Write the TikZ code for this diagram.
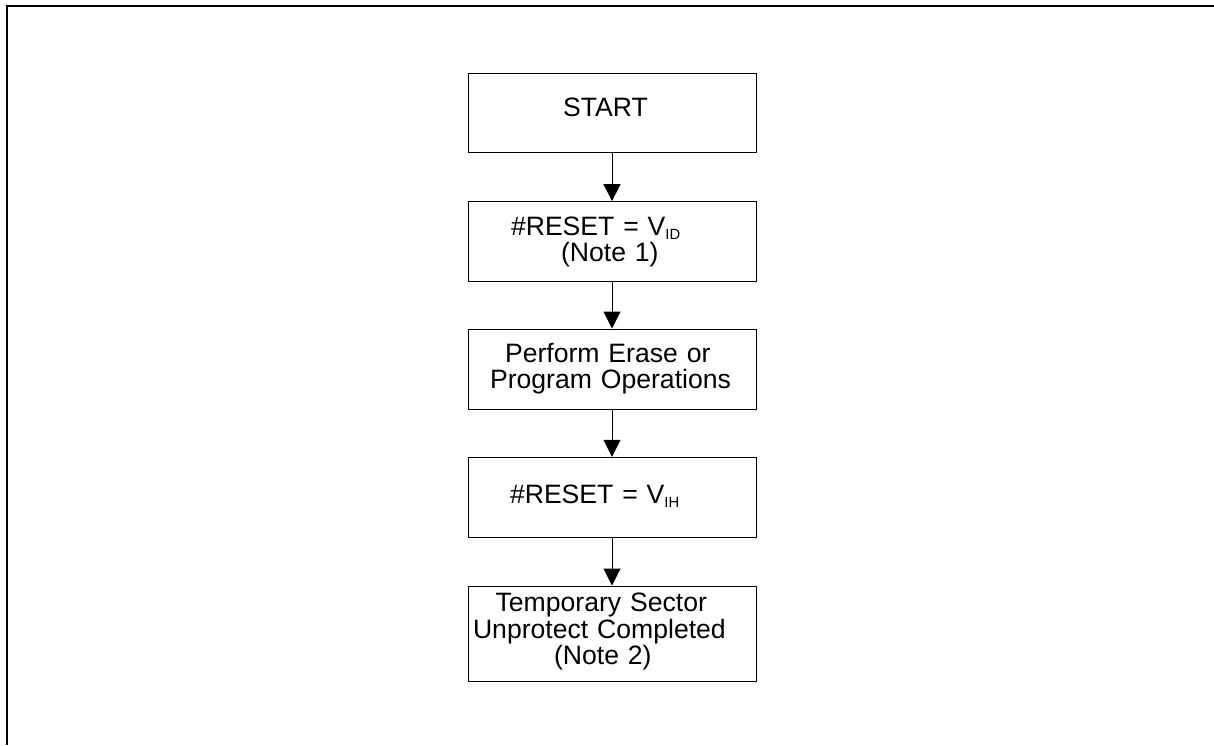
\documentclass[tikz,border=0pt]{standalone}
\usepackage{fontspec}
\setmainfont{Liberation Sans}
\usetikzlibrary{positioning,arrows.meta}
\newcommand{\vsub}[1]{\raisebox{-2.3pt}{\fontsize{7.4}{8}\selectfont #1}}
\newcommand{\ind}[1]{\hspace*{#1pt}}

\begin{document}
\begin{tikzpicture}[x=0.5pt,y=-0.5pt,
  font=\fontsize{13.3}{13.15}\selectfont,
  blk/.style={draw,line width=0.5pt,rectangle,inner sep=0pt,
    minimum width=144pt,text width=144pt,align=left},
  flow/.style={line width=0.5pt,-{Triangle[length=8.5pt,width=8.5pt]}}]
\useasboundingbox (0,0) rectangle (1214,745);
\draw[line width=1.1pt] (7,745) -- (7,6) -- (1214,6);

\node[blk,minimum height=39.7pt,text height=3pt,text depth=0pt] (start) at (612,113)
  {\ind{47.5}START};
\node[blk,minimum height=39.7pt,text height=3.7pt,text depth=10pt] (rstid) at (612,241.3)
  {\ind{21.5}\#RESET = V\vsub{ID}\\ \ind{46.5}(Note 1)};
\node[blk,minimum height=40pt,text height=3pt,text depth=10pt] (oper) at (612,369)
  {\ind{18.5}Perform Erase or\\ \ind{11}Program Operations};
\node[blk,minimum height=40pt,text height=5.7pt,text depth=0pt] (rstih) at (612,497.3)
  {\ind{21}\#RESET = V\vsub{IH}};
\node[blk,minimum height=47.5pt,text height=3.2pt,text depth=25pt] (done) at (612,633.5)
  {\ind{13.8}Temporary Sector\\ \ind{2.5}Unprotect Completed\\ \ind{43}(Note 2)};

\draw[flow] (start) -- (rstid);
\draw[flow] (rstid) -- (oper);
\draw[flow] (oper) -- (rstih);
\draw[flow] (rstih) -- (done);
\end{tikzpicture}
\end{document}
